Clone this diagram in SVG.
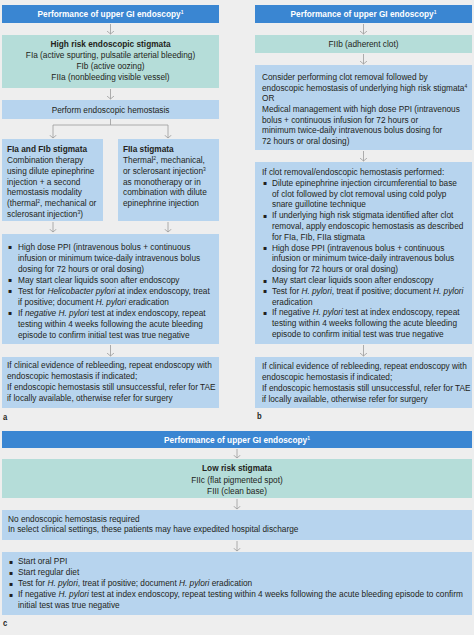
<svg xmlns="http://www.w3.org/2000/svg" width="474" height="635" viewBox="0 0 474 635">
<style>
text{font-family:"Liberation Sans",Arial,sans-serif;font-size:9.2px;fill:#231f20;transform:scaleX(0.9);transform-box:fill-box;transform-origin:left center}
.b{font-weight:bold}
.w{fill:#ffffff;font-weight:bold}
.c{text-anchor:middle;transform-origin:center}
.i{font-style:italic}
.sup{font-size:5.5px;baseline-shift:super}
.bu{font-family:"DejaVu Sans",sans-serif;font-size:6px;transform:none}
.title{fill:#3a86d2}
.teal{fill:#b5ddd9}
.blue{fill:#b7d4ee}
.con{stroke:#9b9b9b;stroke-width:0.8;fill:none}
.lab{font-weight:bold;font-size:8.5px}
</style>
<defs>
<marker id="ah" viewBox="0 0 4 8" refX="3.5" refY="4" markerWidth="4" markerHeight="8" markerUnits="userSpaceOnUse" orient="auto">
<path d="M0.5,0.5 L3.5,4 L0.5,7.5" fill="none" stroke="#9b9b9b" stroke-width="0.8"/>
</marker>
</defs>
<rect x="0" y="0" width="474" height="635" fill="#eeeeee"/>

<g id="connectors" class="con">
<path d="M110.5,24 V34" marker-end="url(#ah)"/>
<path d="M110.5,89 V99" marker-end="url(#ah)"/>
<path d="M110.5,119 V125 M53,125 H168"/>
<path d="M53,125 V138" marker-end="url(#ah)"/>
<path d="M168,125 V138" marker-end="url(#ah)"/>
<path d="M53,222 V232" marker-end="url(#ah)"/>
<path d="M168,222 V232" marker-end="url(#ah)"/>
<path d="M110.5,345 V356" marker-end="url(#ah)"/>
<path d="M363.5,24 V34" marker-end="url(#ah)"/>
<path d="M363.5,54 V64" marker-end="url(#ah)"/>
<path d="M363.5,151 V161" marker-end="url(#ah)"/>
<path d="M363.5,345 V356" marker-end="url(#ah)"/>
<path d="M237,449 V458" marker-end="url(#ah)"/>
<path d="M237,499 V509" marker-end="url(#ah)"/>
<path d="M237,541 V551" marker-end="url(#ah)"/>
</g>

<g id="a-title">
<rect class="title" x="2" y="5" width="217" height="18"/>
<text class="w c" x="110.5" y="17.2">Performance of upper GI endoscopy<tspan class="sup">1</tspan></text>
</g>
<g id="a-high-risk">
<rect class="teal" x="2" y="35" width="217" height="53"/>
<text class="c b" x="110.5" y="47.5">High risk endoscopic stigmata</text>
<text class="c" x="110.5" y="58.2">FIa (active spurting, pulsatile arterial bleeding)</text>
<text class="c" x="110.5" y="68.9">FIb (active oozing)</text>
<text class="c" x="110.5" y="79.6">FIIa (nonbleeding visible vessel)</text>
</g>
<g id="a-hemostasis">
<rect class="blue" x="2" y="100" width="217" height="19"/>
<text class="c" x="110.5" y="113">Perform endoscopic hemostasis</text>
</g>
<g id="a-fia-fib">
<rect class="blue" x="2" y="139" width="101" height="82"/>
<text class="b" x="7" y="152.3">FIa and FIb stigmata</text>
<text x="7" y="163">Combination therapy</text>
<text x="7" y="173.8">using dilute epinephrine</text>
<text x="7" y="184.6">injection + a second</text>
<text x="7" y="195.4">hemostasis modality</text>
<text x="7" y="206.2">(thermal<tspan class="sup">2</tspan>, mechanical or</text>
<text x="7" y="217">sclerosant injection<tspan class="sup">3</tspan>)</text>
</g>
<g id="a-fiia">
<rect class="blue" x="118" y="139" width="101" height="82"/>
<text class="b" x="123" y="152.3">FIIa stigmata</text>
<text x="123" y="163">Thermal<tspan class="sup">2</tspan>, mechanical,</text>
<text x="123" y="173.8">or sclerosant injection<tspan class="sup">3</tspan></text>
<text x="123" y="184.6">as monotherapy or in</text>
<text x="123" y="195.4">combination with dilute</text>
<text x="123" y="206.2">epinephrine injection</text>
</g>
<g id="a-management">
<rect class="blue" x="2" y="234" width="217" height="110"/>
<text class="bu" x="8" y="249.3">▪</text><text x="18" y="249.7">High dose PPI (intravenous bolus + continuous</text>
<text x="18" y="260.7">infusion or minimum twice-daily intravenous bolus</text>
<text x="18" y="271.7">dosing for 72 hours or oral dosing)</text>
<text class="bu" x="8" y="282.3">▪</text><text x="18" y="282.7">May start clear liquids soon after endoscopy</text>
<text class="bu" x="8" y="293.3">▪</text><text x="18" y="293.7">Test for <tspan class="i">Helicobacter pylori</tspan> at index endoscopy, treat</text>
<text x="18" y="304.7">if positive; document <tspan class="i">H. pylori</tspan> eradication</text>
<text class="bu" x="8" y="315.3">▪</text><text x="18" y="315.7">If <tspan class="i">negative H. pylori</tspan> test at index endoscopy, repeat</text>
<text x="18" y="326.7">testing within 4 weeks following the acute bleeding</text>
<text x="18" y="337.7">episode to confirm initial test was true negative</text>
</g>
<g id="a-rebleeding">
<rect class="blue" x="2" y="357" width="217" height="51"/>
<text x="7" y="368.5">If clinical evidence of rebleeding, repeat endoscopy with</text>
<text x="7" y="379.5">endoscopic hemostasis if indicated;</text>
<text x="7" y="390.5">If endoscopic hemostasis still unsuccessful, refer for TAE</text>
<text x="7" y="401.5">if locally available, otherwise refer for surgery</text>
</g>
<text class="lab" x="3" y="420">a</text>

<g id="b-title">
<rect class="title" x="255" y="5" width="217" height="18"/>
<text class="w c" x="363.5" y="17.2">Performance of upper GI endoscopy<tspan class="sup">1</tspan></text>
</g>
<g id="b-fiib">
<rect class="teal" x="255" y="35" width="217" height="18"/>
<text class="c" x="363.5" y="47.2">FIIb (adherent clot)</text>
</g>
<g id="b-consider">
<rect class="blue" x="255" y="65" width="217" height="85"/>
<text x="262" y="80">Consider performing clot removal followed by</text>
<text x="262" y="90.7">endoscopic hemostasis of underlying high risk stigmata<tspan class="sup">4</tspan></text>
<text x="262" y="101.4">OR</text>
<text x="262" y="112.1">Medical management with high dose PPI (intravenous</text>
<text x="262" y="122.8">bolus + continuous infusion for 72 hours or</text>
<text x="262" y="133.5">minimum twice-daily intravenous bolus dosing for</text>
<text x="262" y="144.2">72 hours or oral dosing)</text>
</g>
<g id="b-clot-removal">
<rect class="blue" x="255" y="162" width="217" height="182"/>
<text x="262" y="175">If clot removal/endoscopic hemostasis performed:</text>
<text class="bu" x="263" y="185.4">▪</text><text x="272" y="185.8">Dilute epinephrine injection circumferential to base</text>
<text x="272" y="196.6">of clot followed by clot removal using cold polyp</text>
<text x="272" y="207.4">snare guillotine technique</text>
<text class="bu" x="263" y="217.8">▪</text><text x="272" y="218.2">If underlying high risk stigmata identified after clot</text>
<text x="272" y="229">removal, apply endoscopic hemostasis as described</text>
<text x="272" y="239.8">for FIa, FIb, FIIa stigmata</text>
<text class="bu" x="263" y="250.2">▪</text><text x="272" y="250.6">High dose PPI (intravenous bolus + continuous</text>
<text x="272" y="261.4">infusion or minimum twice-daily intravenous bolus</text>
<text x="272" y="272.2">dosing for 72 hours or oral dosing)</text>
<text class="bu" x="263" y="282.6">▪</text><text x="272" y="283">May start clear liquids soon after endoscopy</text>
<text class="bu" x="263" y="293.4">▪</text><text x="272" y="293.8">Test for <tspan class="i">H. pylori</tspan>, treat if positive; document <tspan class="i">H. pylori</tspan></text>
<text x="272" y="304.6">eradication</text>
<text class="bu" x="263" y="315">▪</text><text x="272" y="315.4">If negative <tspan class="i">H. pylori</tspan> test at index endoscopy, repeat</text>
<text x="272" y="326.2">testing within 4 weeks following the acute bleeding</text>
<text x="272" y="337">episode to confirm initial test was true negative</text>
</g>
<g id="b-rebleeding">
<rect class="blue" x="255" y="357" width="217" height="51"/>
<text x="262" y="369.5">If clinical evidence of rebleeding, repeat endoscopy with</text>
<text x="262" y="380.3">endoscopic hemostasis if indicated;</text>
<text x="262" y="391.1">If endoscopic hemostasis still unsuccessful, refer for TAE</text>
<text x="262" y="401.9">if locally available, otherwise refer for surgery</text>
</g>
<text class="lab" x="257" y="419">b</text>

<g id="c-title">
<rect class="title" x="2" y="431" width="470" height="17"/>
<text class="w c" x="237" y="443">Performance of upper GI endoscopy<tspan class="sup">1</tspan></text>
</g>
<g id="c-low-risk">
<rect class="teal" x="2" y="459" width="470" height="39"/>
<text class="b c" x="237" y="471.2">Low risk stigmata</text>
<text class="c" x="237" y="482.7">FIIc (flat pigmented spot)</text>
<text class="c" x="237" y="494">FIII (clean base)</text>
</g>
<g id="c-no-hemostasis">
<rect class="blue" x="2" y="510" width="470" height="30"/>
<text x="8" y="522">No endoscopic hemostasis required</text>
<text x="8" y="532.5">In select clinical settings, these patients may have expedited hospital discharge</text>
</g>
<g id="c-management">
<rect class="blue" x="2" y="552" width="470" height="63"/>
<text class="bu" x="9" y="563.6">▪</text><text x="18" y="564">Start oral PPI</text>
<text class="bu" x="9" y="574.6">▪</text><text x="18" y="575">Start regular diet</text>
<text class="bu" x="9" y="585.6">▪</text><text x="18" y="586">Test for <tspan class="i">H. pylori</tspan>, treat if positive; document <tspan class="i">H. pylori</tspan> eradication</text>
<text class="bu" x="9" y="596.6">▪</text><text x="18" y="597">If negative <tspan class="i">H. pylori</tspan> test at index endoscopy, repeat testing within 4 weeks following the acute bleeding episode to confirm</text>
<text x="18" y="608">initial test was true negative</text>
</g>
<text class="lab" x="3" y="626">c</text>
</svg>
